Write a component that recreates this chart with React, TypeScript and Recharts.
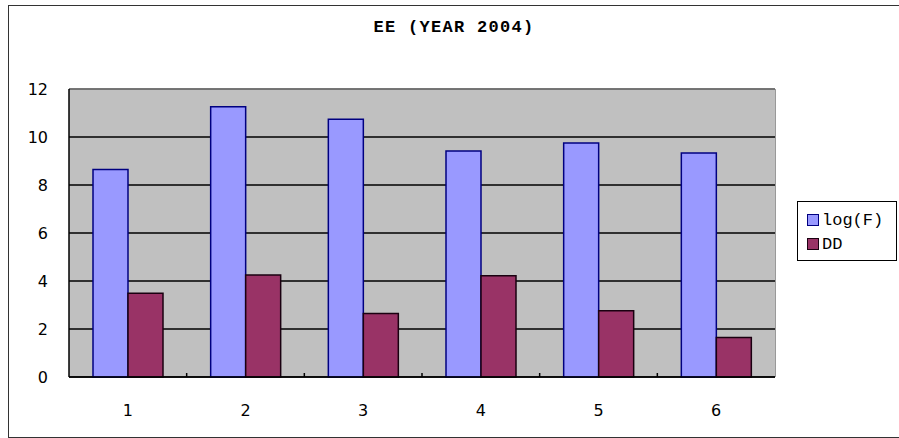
import React from "react";
import {
  BarChart,
  Bar,
  XAxis,
  YAxis,
  CartesianGrid,
  ReferenceLine,
} from "recharts";

// ─── Data ────────────────────────────────────────────────────────────────────

const categories = ["1", "2", "3", "4", "5", "6"];
const logF = [8.65, 11.26, 10.74, 9.42, 9.75, 9.33];
const dd = [3.49, 4.25, 2.65, 4.22, 2.76, 1.65];
const yTicks = [0, 2, 4, 6, 8, 10, 12];

const data = categories.map((c, i) => ({ name: c, "log(F)": logF[i], DD: dd[i] }));

// ─── Layout constants ────────────────────────────────────────────────────────

const W = 899;
const H = 438;
const PLOT_LEFT = 69;
const PLOT_RIGHT = 775;
const PLOT_TOP = 89;
const PLOT_BOTTOM = 377;
const BAND = (PLOT_RIGHT - PLOT_LEFT) / categories.length;

const BLUE = "#9999ff";
const BLUE_EDGE = "#000080";
const WINE = "#993366";
const WINE_EDGE = "#1a0010";
const TEXT_FONT = "'Liberation Mono', 'DejaVu Sans Mono', monospace";
const NUM_FONT = "'DejaVu Sans', sans-serif";

// x tick: centred label plus a small inward tick mark at the right category boundary
const XTick = (props: any) => {
  const { x, y, payload, index } = props;
  const bx = x + BAND / 2;
  return (
    <g>
      {index < categories.length - 1 && (
        <line x1={bx} x2={bx} y1={y} y2={y - 4} stroke="#000" strokeWidth={1.5} />
      )}
      <text
        x={x}
        y={y + 39}
        textAnchor="middle"
        fontFamily={NUM_FONT}
        fontSize={16}
        fill="#000"
      >
        {payload.value}
      </text>
    </g>
  );
};

const LEGEND_ITEMS = [
  { label: "log(F)", color: BLUE, edge: BLUE_EDGE },
  { label: "DD", color: WINE, edge: WINE_EDGE },
];

const LegendBox = () => (
  <div
    style={{
      position: "absolute",
      left: 797,
      top: 201,
      border: "1px solid #000",
      background: "#fff",
      width: 100,
      height: 60,
      boxSizing: "border-box",
      padding: "6px 0 0 9px",
      fontFamily: TEXT_FONT,
      fontSize: 17,
      color: "#000",
    }}
  >
    {LEGEND_ITEMS.map((it) => (
      <div key={it.label} style={{ display: "flex", alignItems: "center", height: 24 }}>
        <span
          style={{
            display: "inline-block",
            width: 10,
            height: 10,
            background: it.color,
            border: `1px solid ${it.edge}`,
            marginRight: 3,
          }}
        />
        <span>{it.label}</span>
      </div>
    ))}
  </div>
);

export default function App() {
  return (
    <div
      style={{
        position: "absolute",
        left: 0,
        top: 0,
        width: W,
        height: H,
        background: "#fff",
        overflow: "hidden",
      }}
    >
      {/* outer chart frame */}
      <div
        style={{
          position: "absolute",
          left: 8,
          top: 5,
          width: 900,
          height: 431,
          border: "1px solid #333",
        }}
      />

      <div
        style={{
          position: "absolute",
          left: 0,
          width: 908,
          top: 18,
          textAlign: "center",
          fontFamily: TEXT_FONT,
          fontSize: 17,
          fontWeight: "bold",
          color: "#000",
          whiteSpace: "pre",
          letterSpacing: 1.3,
        }}
      >
        {"EE (YEAR 2004)"}
      </div>

      <div style={{ position: "absolute", left: 0, top: 0 }}>
        <BarChart
          width={W}
          height={H}
          data={data}
          margin={{ top: PLOT_TOP, right: W - PLOT_RIGHT, bottom: 21, left: PLOT_LEFT - 50 }}
          barCategoryGap={24}
          barGap={0}
        >
          <CartesianGrid
            vertical={false}
            fill="#c0c0c0"
            fillOpacity={1}
            stroke="#000"
            strokeWidth={1.5}
          />
          <XAxis
            dataKey="name"
            tick={<XTick />}
            tickLine={false}
            tickSize={0}
            tickMargin={0}
            height={H - PLOT_BOTTOM - 21}
            axisLine={{ stroke: "#000", strokeWidth: 1.5 }}
            interval={0}
          />
          <YAxis
            domain={[0, 12]}
            ticks={yTicks}
            width={50}
            tickLine={false}
            tickSize={0}
            tickMargin={21}
            axisLine={{ stroke: "#000", strokeWidth: 1.5 }}
            tick={{ fill: "#000", fontSize: 16, fontFamily: NUM_FONT }}
          />
          <ReferenceLine y={12} stroke="#888" strokeWidth={1.5} />
          <Bar
            dataKey="log(F)"
            fill={BLUE}
            stroke={BLUE_EDGE}
            strokeWidth={1.5}
            isAnimationActive={false}
          />
          <Bar
            dataKey="DD"
            fill={WINE}
            stroke={WINE_EDGE}
            strokeWidth={1.5}
            isAnimationActive={false}
          />
        </BarChart>
      </div>

      {/* right edge of plot area */}
      <div
        style={{
          position: "absolute",
          left: PLOT_RIGHT,
          top: PLOT_TOP,
          width: 1,
          height: PLOT_BOTTOM - PLOT_TOP,
          background: "#999",
        }}
      />

      <LegendBox />
    </div>
  );
}
